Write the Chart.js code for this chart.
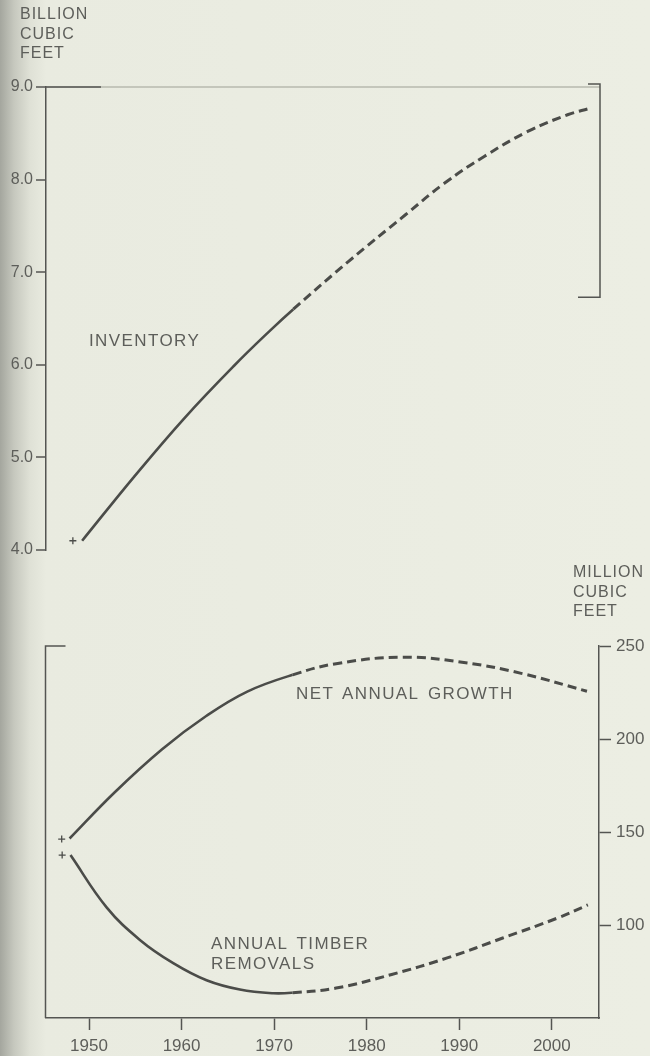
<!DOCTYPE html>
<html>
<head>
<meta charset="utf-8">
<script src="https://cdn.jsdelivr.net/npm/chart.js@4.4.1/dist/chart.umd.min.js"></script>
<style>
  html, body { margin: 0; padding: 0; }
  body {
    width: 650px; height: 1056px; position: relative; overflow: hidden;
    background: linear-gradient(to right, #a4a69e 0px, #c6c8be 14px, #dfe1d6 30px, #e9ebe0 46px, #eceee3 100%);
    font-family: "Liberation Sans", Arial, sans-serif; color: #5d5e5a;
  }
  .box { position: absolute; left: 0; width: 650px; }
  #topBox { top: 0; height: 565px; }
  #bottomBox { top: 560px; height: 496px; }
  .lbl { position: absolute; font-size: 17px; letter-spacing: 1.4px; word-spacing: 3px; line-height: 20px; white-space: nowrap; }
  .unit { font-size: 16px; letter-spacing: 1px; line-height: 19.7px; }
</style>
</head>
<body>
<div class="box" id="topBox"><canvas id="inventoryChart"></canvas></div>
<div class="box" id="bottomBox"><canvas id="flowChart"></canvas></div>

<div class="lbl unit" style="left:20px; top:4px;">BILLION<br>CUBIC<br>FEET</div>
<div class="lbl unit" style="left:573px; top:562px;">MILLION<br>CUBIC<br>FEET</div>
<div class="lbl" style="left:89px; top:331px;">INVENTORY</div>
<div class="lbl" style="left:296px; top:684px;">NET ANNUAL GROWTH</div>
<div class="lbl" style="left:211px; top:934px;">ANNUAL TIMBER<br>REMOVALS</div>

<script>
// values (years on x)
const inventoryYears = [1949.2, 1954.8, 1960.2, 1965.6, 1969.6, 1972, 1978, 1984.1, 1988.3, 1992.6, 1997.3, 2001.6, 2004];
const inventoryValues = [4.10, 4.79, 5.42, 5.99, 6.38, 6.60, 7.12, 7.62, 7.96, 8.25, 8.52, 8.70, 8.77];

const growthYears = [1947.9, 1952.7, 1957.9, 1962.7, 1967.1, 1972, 1976.7, 1983.9, 1990.7, 1996.7, 2003.8];
const growthValues = [146.5, 171, 194.5, 212.5, 225.5, 234.5, 240.5, 244, 241, 235.3, 225.7];

const removalYears = [1948, 1951.9, 1955.5, 1959.1, 1962.7, 1966.3, 1969.9, 1972, 1976.7, 1982.7, 1988.7, 1994.7, 2000.7, 2003.9];
const removalValues = [137.6, 109.5, 92, 79.5, 70.3, 65.3, 63.3, 63.6, 66.1, 73.4, 82.3, 93, 103.9, 110.8];

// small "+" marks at the start of each curve
const markYearsTop = [1948.2];
const markValuesTop = [4.1];
const markYearsBottom = [1947.05, 1947.1];
const markValuesBottom = [146.2, 137.6];

const projectedFrom = 1972;  // dashed after this

const yearTicks = [1950, 1960, 1970, 1980, 1990, 2000];
const billionTicks = [4, 5, 6, 7, 8, 9];
const millionTicks = [100, 150, 200, 250];

const xMin = 1945.3, xMax = 2005.1;
const lineColor = '#4b4c49';
const axisColor = '#545552';
const textColor = '#5d5e5a';
const fontFamily = '"Liberation Sans", Arial, sans-serif';

function pts(xs, ys) {
    return xs.map((x, i) => ({ x: x, y: ys[i] }));
}

function curve(xs, ys) {
    return {
        data: pts(xs, ys),
        borderColor: lineColor,
        borderWidth: 2.6,
        pointRadius: 0,
        tension: 0.4,
        segment: {
            borderDash: c => c.p0.parsed.x >= projectedFrom ? [9, 5] : [],
            borderWidth: c => c.p0.parsed.x >= projectedFrom ? 3 : 2.6
        }
    };
}

function marks(xs, ys) {
    return {
        data: pts(xs, ys),
        showLine: false,
        pointStyle: 'cross',
        pointRadius: 3.5,
        pointBorderWidth: 1.3,
        pointBorderColor: lineColor
    };
}

const topFrame = {
    id: 'topFrame',
    afterDraw(chart) {
        const { ctx, chartArea: a, scales: { y } } = chart;
        const yTop = y.getPixelForValue(9);
        ctx.save();
        ctx.strokeStyle = axisColor;
        ctx.lineWidth = 1.5;
        // right bracket
        ctx.beginPath();
        ctx.moveTo(a.right - 12, yTop - 3);
        ctx.lineTo(a.right, yTop - 3);
        ctx.lineTo(a.right, y.getPixelForValue(6.73));
        ctx.lineTo(a.right - 22, y.getPixelForValue(6.73));
        ctx.stroke();
        // darker start of the top rule
        ctx.beginPath();
        ctx.moveTo(a.left, yTop);
        ctx.lineTo(a.left + 55, yTop);
        ctx.stroke();
        ctx.restore();
    }
};

const bottomFrame = {
    id: 'bottomFrame',
    afterDraw(chart) {
        const { ctx, chartArea: a } = chart;
        ctx.save();
        ctx.strokeStyle = axisColor;
        ctx.lineWidth = 1.5;
        ctx.beginPath();
        ctx.moveTo(a.left + 20, a.top);
        ctx.lineTo(a.left, a.top);
        ctx.lineTo(a.left, a.bottom);
        ctx.stroke();
        ctx.restore();
    }
};

const common = {
    responsive: true,
    maintainAspectRatio: false,
    devicePixelRatio: 1,
    animation: false,
    events: [],
    plugins: { legend: { display: false }, tooltip: { enabled: false } }
};

new Chart(document.getElementById('inventoryChart').getContext('2d'), {
    type: 'line',
    data: {
        datasets: [curve(inventoryYears, inventoryValues), marks(markYearsTop, markValuesTop)]
    },
    options: {
        ...common,
        layout: { padding: { top: 87, right: 50, bottom: 15, left: 0 } },
        scales: {
            x: { type: 'linear', min: xMin, max: xMax, display: false },
            y: {
                position: 'left',
                min: 4,
                max: 9,
                afterFit: s => { s.width = 46; },
                afterBuildTicks: s => { s.ticks = billionTicks.map(v => ({ value: v })); },
                ticks: { callback: v => v.toFixed(1), font: { family: fontFamily, size: 16 }, color: textColor, padding: 3 },
                grid: {
                    color: c => (c.tick && c.tick.value === 9) ? '#c4c6bb' : 'rgba(0,0,0,0)',
                    lineWidth: 2,
                    tickColor: axisColor,
                    tickWidth: 1.5,
                    tickLength: 10
                },
                border: { display: true, color: axisColor, width: 1.5 }
            }
        }
    },
    plugins: [topFrame]
});

new Chart(document.getElementById('flowChart').getContext('2d'), {
    type: 'line',
    data: {
        datasets: [
            curve(growthYears, growthValues),
            curve(removalYears, removalValues),
            marks(markYearsBottom, markValuesBottom)
        ]
    },
    options: {
        ...common,
        layout: { padding: { top: 86, right: 0, bottom: 0, left: 45.5 } },
        scales: {
            x: {
                type: 'linear',
                position: 'bottom',
                min: xMin,
                max: xMax,
                afterFit: s => { s.height = 38; },
                afterBuildTicks: s => { s.ticks = yearTicks.map(v => ({ value: v })); },
                ticks: { callback: v => String(v), font: { family: fontFamily, size: 17 }, color: textColor, padding: 6, maxRotation: 0 },
                grid: { drawOnChartArea: false, tickColor: axisColor, tickWidth: 1.5, tickLength: 12 },
                border: { display: true, color: axisColor, width: 1.5 }
            },
            y: {
                position: 'right',
                min: 50,
                max: 250,
                afterFit: s => { s.width = 51; },
                afterBuildTicks: s => { s.ticks = millionTicks.map(v => ({ value: v })); },
                ticks: { font: { family: fontFamily, size: 17 }, color: textColor, padding: 5 },
                grid: { drawOnChartArea: false, tickColor: axisColor, tickWidth: 1.5, tickLength: 12 },
                border: { display: true, color: axisColor, width: 1.5 }
            }
        }
    },
    plugins: [bottomFrame]
});
</script>
</body>
</html>
